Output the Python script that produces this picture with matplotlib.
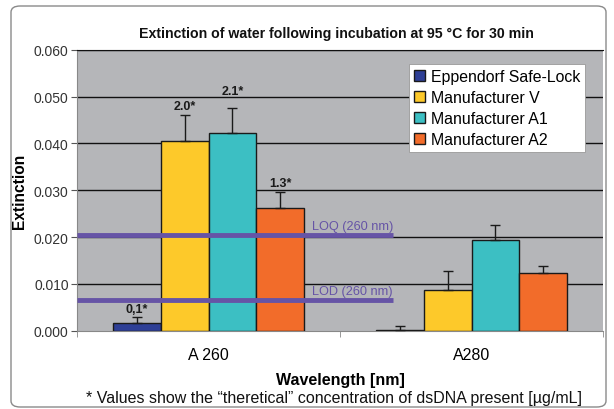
import numpy as np
import matplotlib
matplotlib.use("Agg")
import matplotlib.pyplot as plt
from matplotlib.patches import FancyBboxPatch

plt.rcParams['font.family'] = ['Liberation Sans', 'DejaVu Sans']

categories = ["A 260", "A280"]
series = ["Eppendorf Safe-Lock", "Manufacturer V", "Manufacturer A1", "Manufacturer A2"]
colors = ["#2e3f96", "#fdc92a", "#3cbfc3", "#f26c2a"]
values = [
    [0.0016, 0.0002],
    [0.0405, 0.0086],
    [0.0422, 0.0193],
    [0.0261, 0.0123],
]
errors = [
    [0.0013, 0.0007],
    [0.0056, 0.0041],
    [0.0053, 0.0033],
    [0.0035, 0.0016],
]
a260_labels = ["0,1*", "2.0*", "2.1*", "1.3*"]
loq = 0.0204
lod = 0.0066

# gap between error bar top and its label (data units)
label_gap = [0.0004, 0.0006, 0.0024, 0.0006]

fig = plt.figure(figsize=(6.14, 4.10), dpi=100)
fig.patch.set_facecolor("white")

# rounded outer frame
frame = FancyBboxPatch((11 / 614, 2 / 410), 595 / 614, 401 / 410,
                       boxstyle="round,pad=0,rounding_size=0.015",
                       transform=fig.transFigure, facecolor="none",
                       edgecolor="#8a8a8a", linewidth=1.0)
fig.patches.append(frame)

ax = fig.add_axes([77 / 614, 1 - 331.7 / 410, 526 / 614, (331.7 - 50.7) / 410])
ax.set_facecolor("#b5b6b9")

x = np.arange(len(categories))
w = 0.182
for i, (s, c) in enumerate(zip(series, colors)):
    pos = x + (i - 1.5) * w
    ax.bar(pos, values[i], width=w, color=c, edgecolor="#1a1a1a", linewidth=1.0,
           label=s, zorder=3,
           yerr=[np.zeros(len(categories)), errors[i]],
           error_kw=dict(ecolor="#1a1a1a", elinewidth=1.0, capsize=3.5, capthick=1.0, zorder=4))
    top = values[i][0] + errors[i][0]
    ax.text(pos[0], top + label_gap[i], a260_labels[i], ha="center", va="bottom",
            fontsize=9, fontweight="bold", color="#1a1a1a", zorder=5)

ax.set_xlim(-0.5, 1.5)
ax.set_ylim(0, 0.060)
ax.set_yticks(np.arange(0, 0.0601, 0.01))
ax.set_yticklabels([f"{v:.3f}" for v in np.arange(0, 0.0601, 0.01)], fontsize=10, color="#333333")
for yv in np.arange(0.01, 0.0601, 0.01):
    ax.axhline(yv, color="#111111", linewidth=1.0, zorder=1)

# LOQ / LOD lines (drawn over the bars)
xr = (393 - 77) / 526
ax.plot([-0.5, -0.5 + 2 * xr], [loq, loq], color="#6654a6", linewidth=3.5, zorder=6, solid_capstyle="butt")
ax.plot([-0.5, -0.5 + 2 * xr], [lod, lod], color="#6654a6", linewidth=3.5, zorder=6, solid_capstyle="butt")
ax.text(-0.5 + 2 * xr, loq + 0.0006, "LOQ (260 nm)", ha="right", va="bottom",
        fontsize=9.2, color="#6654a6", zorder=6)
ax.text(-0.5 + 2 * xr, lod + 0.0006, "LOD (260 nm)", ha="right", va="bottom",
        fontsize=9.2, color="#6654a6", zorder=6)

ax.set_xticks(x)
ax.set_xticklabels(categories, fontsize=11.5)
ax.tick_params(axis="x", which="major", length=0, pad=12)
ax.set_xticks([-0.5, 0.5, 1.5], minor=True)
ax.tick_params(axis="x", which="minor", length=4, color="#888888")
ax.tick_params(axis="y", length=4, color="#555555", pad=2)

ax.spines["right"].set_visible(False)
ax.spines["top"].set_color("#111111")
ax.spines["left"].set_color("#888888")
ax.spines["bottom"].set_color("#888888")

ax.set_ylabel("Extinction", fontsize=11.2, fontweight="bold", labelpad=5)
ax.set_xlabel("Wavelength [nm]", fontsize=11.5, fontweight="bold", labelpad=7)

leg = ax.legend(loc="upper right", bbox_to_anchor=(0.966, 0.949), fontsize=11.4,
                frameon=True, fancybox=False, framealpha=1, edgecolor="#999999",
                handlelength=0.7, handleheight=0.7, handletextpad=0.4,
                borderpad=0.3, labelspacing=0.38, borderaxespad=0)
leg.get_frame().set_linewidth(0.6)

fig.text(336 / 614, 1 - 34 / 410, "Extinction of water following incubation at 95 \u00b0C for 30 min",
         ha="center", va="center", fontsize=10.2, fontweight="bold", color="#111111")
fig.text(334 / 614, 1 - 398.5 / 410,
         "* Values show the \u201ctheretical\u201d concentration of dsDNA present [\u00b5g/mL]",
         ha="center", va="center", fontsize=11.5, color="#111111")

fig.savefig("out.png", dpi=100)
